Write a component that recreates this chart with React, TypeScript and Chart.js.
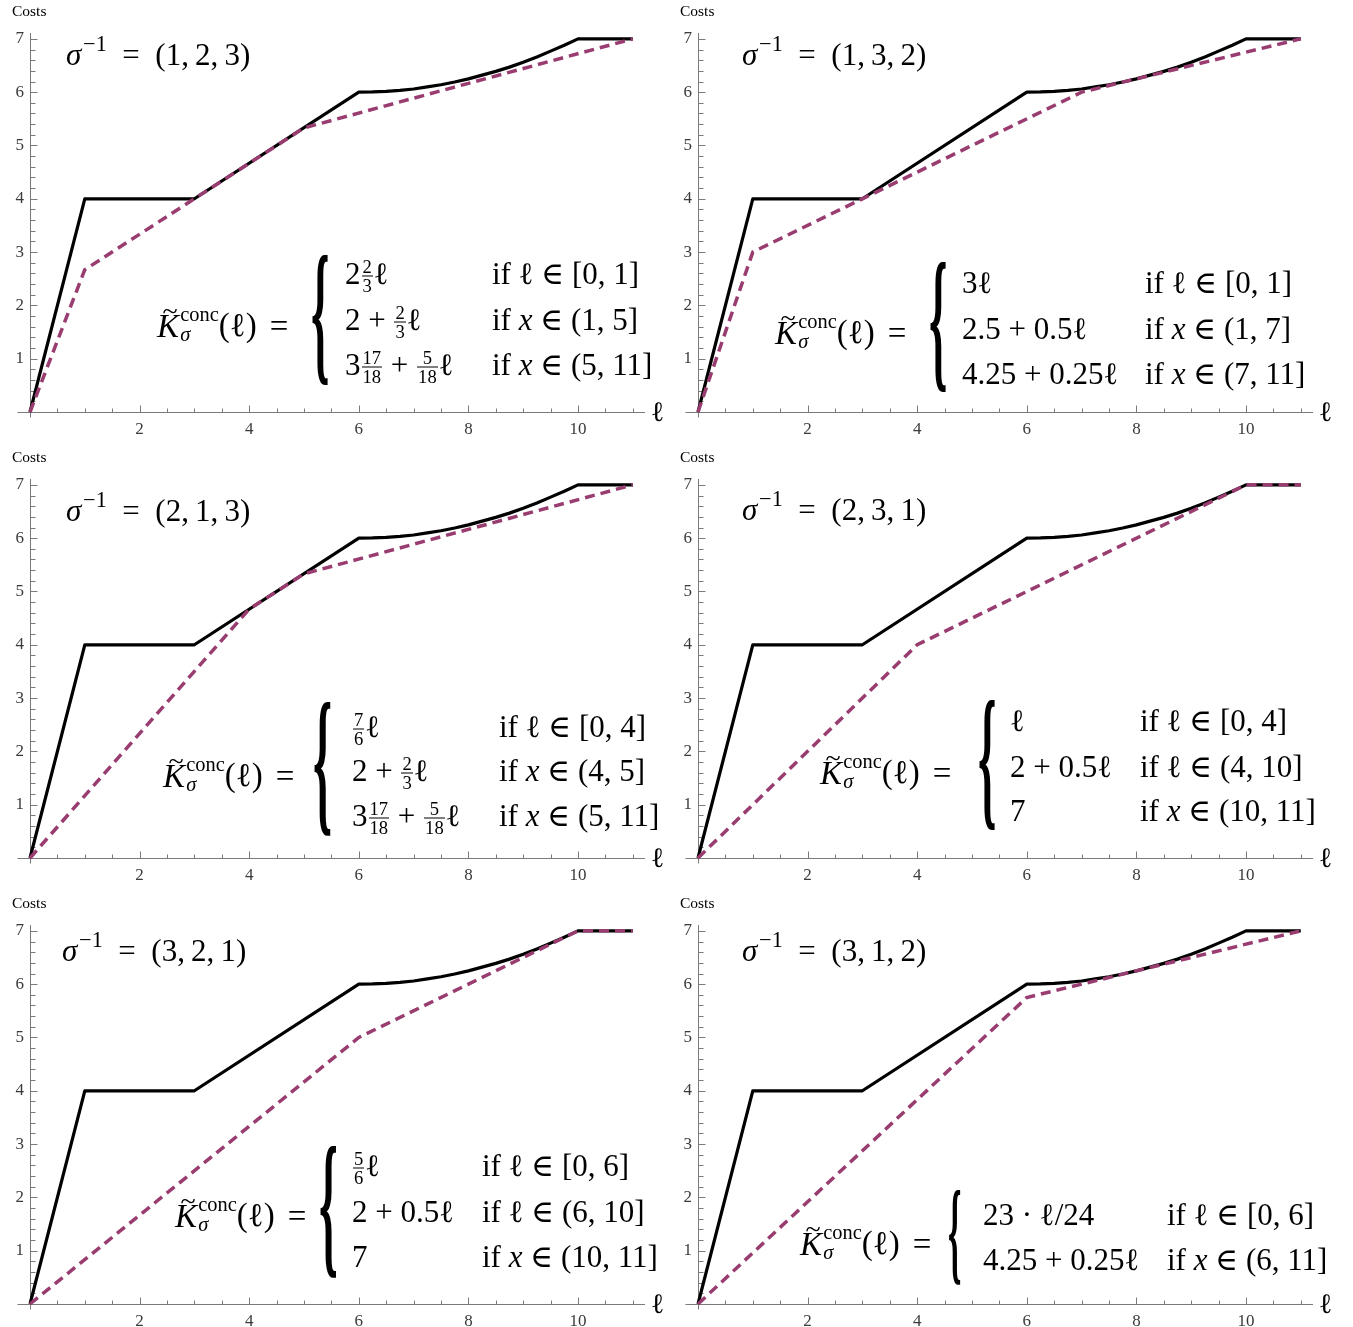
import React, { useEffect, useRef } from 'react';
import { Chart, registerables } from 'chart.js';
Chart.register(...registerables);

// ---------- data ----------
// cost function K_sigma(l) (same in every panel)
const costX = [0, 1, 3, 6, 6.25, 6.5, 6.75, 7, 7.25, 7.5, 7.75, 8, 8.25, 8.5, 8.75, 9, 9.25, 9.5, 9.75, 10, 11];
const costY = [0, 4, 4, 6, 6.004, 6.016, 6.035, 6.06, 6.1, 6.14, 6.19, 6.25, 6.32, 6.39, 6.47, 6.56, 6.66, 6.77, 6.88, 7, 7];

// concave envelopes, one per permutation
const concX_123 = [0, 1, 5, 11];
const concY_123 = [0, 2.67, 5.33, 7];
const concX_132 = [0, 1, 7, 11];
const concY_132 = [0, 3, 6, 7];
const concX_213 = [0, 4, 5, 11];
const concY_213 = [0, 4.67, 5.33, 7];
const concX_231 = [0, 4, 10, 11];
const concY_231 = [0, 4, 7, 7];
const concX_321 = [0, 6, 10, 11];
const concY_321 = [0, 5, 7, 7];
const concX_312 = [0, 6, 11];
const concY_312 = [0, 5.75, 7];

const xTickLabels = [2, 4, 6, 8, 10];
const yTickLabels = [1, 2, 3, 4, 5, 6, 7];
const X_MAX = 11.15;
const Y_MAX = 7.11;

// ---------- styles ----------
const SERIF = '"Liberation Serif", "DejaVu Serif", serif';
const PURPLE = '#993d71';
const AXIS = '#7a7a7a';
const PANEL_W = 668;
const PANEL_H = 435;

const axesPlugin = {
  id: 'mmaAxes',
  beforeDatasetsDraw(chart: any) {
    const { ctx, scales } = chart;
    const x = scales.x;
    const y = scales.y;
    const x0 = Math.round(x.getPixelForValue(0)) + 0.5;
    const y0 = Math.round(y.getPixelForValue(0)) + 0.5;
    ctx.save();
    ctx.strokeStyle = AXIS;
    ctx.lineWidth = 1;
    ctx.beginPath();
    ctx.moveTo(x0 - 13, y0);
    ctx.lineTo(x.right + 4, y0);
    ctx.moveTo(x0, y0 + 5);
    ctx.lineTo(x0, y.top);
    for (let k = 1; k * 0.5 <= x.max + 1e-9; k++) {
      const v = k * 0.5;
      const px = Math.round(x.getPixelForValue(v)) + 0.5;
      const len = xTickLabels.includes(v) ? 7 : 4;
      ctx.moveTo(px, y0);
      ctx.lineTo(px, y0 - len);
    }
    for (let k = 1; k * 0.2 <= y.max + 1e-9; k++) {
      const v = Math.round(k * 2) / 10;
      const py = Math.round(y.getPixelForValue(v)) + 0.5;
      const len = yTickLabels.includes(v) ? 7 : 5;
      ctx.moveTo(x0, py);
      ctx.lineTo(x0 + len, py);
    }
    ctx.stroke();
    ctx.restore();
  },
};

function PanelChart({ concX, concY, left, top }: any) {
  const ref = useRef<HTMLCanvasElement>(null);
  useEffect(() => {
    const chart = new Chart(ref.current as HTMLCanvasElement, {
      type: 'line',
      data: {
        datasets: [
          {
            data: concX.map((v: number, i: number) => ({ x: v, y: concY[i] })),
            borderColor: PURPLE,
            borderWidth: 3.5,
            borderDash: [10, 6],
            pointRadius: 0,
            order: 0,
            clip: false as any,
            tension: 0,
          },
          {
            data: costX.map((v, i) => ({ x: v, y: costY[i] })),
            borderColor: '#000',
            borderWidth: 3.2,
            pointRadius: 0,
            order: 1,
            clip: false as any,
            tension: 0,
            borderJoinStyle: 'round',
          },
        ],
      },
      options: {
        animation: false,
        responsive: false,
        events: [],
        layout: { padding: { left: 0, top: 33, right: 27, bottom: 0 } },
        plugins: { legend: { display: false }, tooltip: { enabled: false } },
        scales: {
          x: {
            type: 'linear',
            min: 0,
            max: X_MAX,
            grid: { display: false, drawTicks: false },
            border: { display: false },
            afterFit: (s: any) => { s.height = 23; },
            afterBuildTicks: (s: any) => { s.ticks = xTickLabels.map((v) => ({ value: v })); },
            ticks: {
              autoSkip: false,
              maxRotation: 0,
              padding: 7,
              color: '#3a3a3a',
              font: { family: SERIF, size: 17 },
              callback: (v: any) => String(v),
            },
          },
          y: {
            type: 'linear',
            min: 0,
            max: Y_MAX,
            grid: { display: false, drawTicks: false },
            border: { display: false },
            afterFit: (s: any) => { s.width = 30; },
            afterBuildTicks: (s: any) => { s.ticks = yTickLabels.map((v) => ({ value: v })); },
            ticks: {
              autoSkip: false,
              padding: 6,
              color: '#3a3a3a',
              font: { family: SERIF, size: 17 },
              callback: (v: any) => String(v),
            },
          },
        },
      } as any,
      plugins: [axesPlugin],
    });
    return () => chart.destroy();
  }, []);
  return (
    <canvas
      ref={ref}
      width={PANEL_W}
      height={PANEL_H}
      style={{ position: 'absolute', left, top, width: PANEL_W, height: PANEL_H }}
    />
  );
}

// ---------- math text helpers ----------
const I = ({ children }: any) => <span style={{ fontStyle: 'italic' }}>{children}</span>;
const ELL = 'ℓ';

function Frac({ n, d }: any) {
  return (
    <span
      style={{
        display: 'inline-flex',
        flexDirection: 'column',
        alignItems: 'center',
        fontSize: '0.6em',
        lineHeight: 0.95,
        verticalAlign: '0.62em',
        margin: '0 1px',
      }}
    >
      <span style={{ padding: '0 1px' }}>{n}</span>
      <span style={{ borderTop: '1.5px solid #000', padding: '0 1px', alignSelf: 'stretch', textAlign: 'center' }}>{d}</span>
    </span>
  );
}

const mathBox = (x: number, y: number, size = 31): React.CSSProperties => ({
  position: 'absolute',
  left: x,
  top: y,
  fontFamily: SERIF,
  fontSize: size,
  lineHeight: 1,
  height: '1em',
  whiteSpace: 'nowrap',
  transform: 'translateY(-50%)',
  color: '#000',
});

function Title({ x, y, perm }: any) {
  return (
    <div style={mathBox(x, y, 31)}>
      <I>σ</I>
      <span style={{ fontSize: '0.72em', verticalAlign: '0.62em', lineHeight: 0, marginLeft: '0.08em' }}>−1</span>
      {'\u2002=\u2002'}({perm.join(',\u2009')})
    </div>
  );
}

function Lhs({ x, y }: any) {
  return (
    <div style={mathBox(x, y, 33)}>
      <span style={{ position: 'relative', display: 'inline-block' }}>
        <I>K</I>
        <span style={{ position: 'absolute', left: '0.2em', top: '-0.47em', fontSize: '0.85em' }}>~</span>
      </span>
      <span
        style={{
          display: 'inline-flex',
          flexDirection: 'column',
          fontSize: '0.62em',
          lineHeight: 1,
          verticalAlign: '0.78em',
          marginLeft: '0.06em',
        }}
      >
        <span>conc</span>
        <span><I>σ</I></span>
      </span>
      ({ELL})<span style={{ marginLeft: '0.4em' }}>=</span>
    </div>
  );
}

function Brace({ x, y, h }: any) {
  const fs = h * 1.2;
  return (
    <div
      style={{
        position: 'absolute',
        left: x,
        top: y,
        fontFamily: SERIF,
        fontSize: fs,
        lineHeight: 1,
        transform: `translateY(-50%) translateY(${-0.055 * fs}px) scaleX(0.3)`,
        transformOrigin: 'left center',
        color: '#000',
        fontWeight: 'bold',
      }}
    >
      {'{'}
    </div>
  );
}

// ---------- panels ----------
const panels = [
  {
    left: 0, top: 0, concX: concX_123, concY: concY_123, perm: [1, 2, 3],
    title: [66, 54], lhs: [157, 320], brace: [311, 321, 130], col1: 345, col2: 492, rowY: [273, 319, 364],
    rows: [
      [<>2<Frac n="2" d="3" />{ELL}</>, <>if {ELL} ∈ [0, 1]</>],
      [<>2 + <Frac n="2" d="3" />{ELL}</>, <>if <I>x</I> ∈ (1, 5]</>],
      [<>3<Frac n="17" d="18" /> + <Frac n="5" d="18" />{ELL}</>, <>if <I>x</I> ∈ (5, 11]</>],
    ],
  },
  {
    left: 668, top: 0, concX: concX_132, concY: concY_132, perm: [1, 3, 2],
    title: [742, 54], lhs: [775, 327], brace: [929, 328, 130], col1: 962, col2: 1145, rowY: [282, 328, 373],
    rows: [
      [<>3{ELL}</>, <>if {ELL} ∈ [0, 1]</>],
      [<>2.5 + 0.5{ELL}</>, <>if <I>x</I> ∈ (1, 7]</>],
      [<>4.25 + 0.25{ELL}</>, <>if <I>x</I> ∈ (7, 11]</>],
    ],
  },
  {
    left: 0, top: 446, concX: concX_213, concY: concY_213, perm: [2, 1, 3],
    title: [66, 510], lhs: [163, 770], brace: [313, 769, 135], col1: 352, col2: 499, rowY: [726, 770, 815],
    rows: [
      [<><Frac n="7" d="6" />{ELL}</>, <>if {ELL} ∈ [0, 4]</>],
      [<>2 + <Frac n="2" d="3" />{ELL}</>, <>if <I>x</I> ∈ (4, 5]</>],
      [<>3<Frac n="17" d="18" /> + <Frac n="5" d="18" />{ELL}</>, <>if <I>x</I> ∈ (5, 11]</>],
    ],
  },
  {
    left: 668, top: 446, concX: concX_231, concY: concY_231, perm: [2, 3, 1],
    title: [742, 509], lhs: [820, 767], brace: [978, 766, 130], col1: 1010, col2: 1140, rowY: [720, 766, 810],
    rows: [
      [<>{ELL}</>, <>if {ELL} ∈ [0, 4]</>],
      [<>2 + 0.5{ELL}</>, <>if {ELL} ∈ (4, 10]</>],
      [<>7</>, <>if <I>x</I> ∈ (10, 11]</>],
    ],
  },
  {
    left: 0, top: 892, concX: concX_321, concY: concY_321, perm: [3, 2, 1],
    title: [62, 950], lhs: [175, 1210], brace: [319, 1212, 133], col1: 352, col2: 482, rowY: [1165, 1211, 1256],
    rows: [
      [<><Frac n="5" d="6" />{ELL}</>, <>if {ELL} ∈ [0, 6]</>],
      [<>2 + 0.5{ELL}</>, <>if {ELL} ∈ (6, 10]</>],
      [<>7</>, <>if <I>x</I> ∈ (10, 11]</>],
    ],
  },
  {
    left: 668, top: 892, concX: concX_312, concY: concY_312, perm: [3, 1, 2],
    title: [742, 950], lhs: [800, 1238], brace: [948, 1238, 95], col1: 983, col2: 1167, rowY: [1214, 1259],
    rows: [
      [<>23 · {ELL}/24</>, <>if {ELL} ∈ [0, 6]</>],
      [<>4.25 + 0.25{ELL}</>, <>if <I>x</I> ∈ (6, 11]</>],
    ],
  },
];

export default function App() {
  return (
    <div
      style={{
        position: 'absolute',
        left: 0,
        top: 0,
        width: 1353,
        height: 1327,
        overflow: 'hidden',
        background: '#fff',
      }}
    >
      {panels.map((p, i) => (
        <React.Fragment key={i}>
          <PanelChart concX={p.concX} concY={p.concY} left={p.left} top={p.top} />
          <div style={{ ...mathBox(p.left + 12, p.top + 11, 15.5) }}>Costs</div>
          <div style={{ ...mathBox(p.left + 651, p.top + 412, 28) }}>{ELL}</div>
          <Title x={p.title[0]} y={p.title[1]} perm={p.perm} />
          <Lhs x={p.lhs[0]} y={p.lhs[1]} />
          <Brace x={p.brace[0]} y={p.brace[1]} h={p.brace[2]} />
          {p.rows.map((r: any, j: number) => (
            <React.Fragment key={j}>
              <div style={mathBox(p.col1, p.rowY[j])}>{r[0]}</div>
              <div style={mathBox(p.col2, p.rowY[j])}>{r[1]}</div>
            </React.Fragment>
          ))}
        </React.Fragment>
      ))}
    </div>
  );
}
